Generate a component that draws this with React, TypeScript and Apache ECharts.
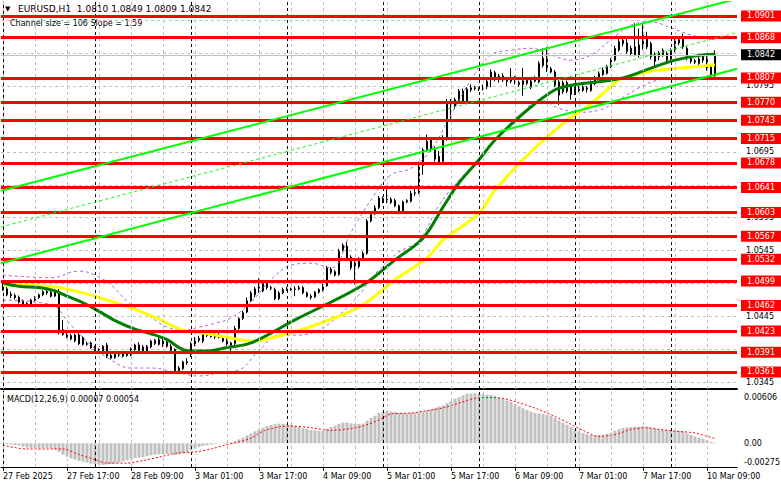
import { useEffect, useRef } from "react";
import * as echarts from "echarts";

const SYMBOL = "EURUSD,H1";
const CHANNEL_TEXT = "Channel size = 106 Slope = 1.59";
const MACD_NAME = "MACD(12,26,9)";
const FONT = "DejaVu Sans";

// Hourly candles [open, high, low, close], one list per trading day
const feb27 = [
  [1.0494, 1.0498, 1.0484, 1.0487], [1.0487, 1.049, 1.0476, 1.0478], [1.0479, 1.0483, 1.0473, 1.0477],
  [1.0477, 1.048, 1.0471, 1.0474], [1.0474, 1.0477, 1.0465, 1.0467], [1.0469, 1.0471, 1.046, 1.0462],
  [1.0463, 1.0467, 1.0461, 1.0465], [1.0464, 1.0472, 1.0462, 1.047], [1.047, 1.0476, 1.0468, 1.0474],
  [1.0474, 1.048, 1.0472, 1.0478], [1.0478, 1.0485, 1.0476, 1.0483], [1.0483, 1.0486, 1.0478, 1.0481],
  [1.0482, 1.0485, 1.0474, 1.0476], [1.0476, 1.0486, 1.0475, 1.0483], [1.0483, 1.049, 1.0418, 1.0421],
  [1.0425, 1.044, 1.0416, 1.0418], [1.042, 1.0423, 1.0412, 1.0414], [1.0416, 1.0419, 1.0409, 1.0411],
  [1.0408, 1.0419, 1.0406, 1.0417], [1.0417, 1.042, 1.0402, 1.0404], [1.0413, 1.0415, 1.0401, 1.0403],
  [1.0404, 1.0407, 1.0401, 1.0403], [1.0405, 1.0407, 1.0396, 1.0398],
];
const feb28 = [
  [1.0399, 1.0401, 1.0393, 1.0395], [1.0395, 1.0397, 1.0391, 1.0393], [1.0393, 1.0402, 1.0391, 1.04],
  [1.0402, 1.0405, 1.0382, 1.0385], [1.0386, 1.039, 1.038, 1.0382], [1.0383, 1.039, 1.0381, 1.0388],
  [1.0387, 1.039, 1.0384, 1.0387], [1.0388, 1.0391, 1.0383, 1.0385], [1.0386, 1.0392, 1.0384, 1.0389],
  [1.0387, 1.0398, 1.0385, 1.0396], [1.0395, 1.0404, 1.0393, 1.0402], [1.0402, 1.0406, 1.0392, 1.0394],
  [1.0399, 1.0402, 1.0391, 1.0393], [1.0392, 1.0402, 1.039, 1.04], [1.0399, 1.041, 1.0397, 1.0408],
  [1.0404, 1.0411, 1.0402, 1.0409], [1.041, 1.0414, 1.0401, 1.0403], [1.0408, 1.0411, 1.0399, 1.0401],
  [1.0407, 1.041, 1.0398, 1.04], [1.04, 1.0403, 1.0392, 1.0394], [1.0395, 1.0397, 1.0359, 1.0362],
  [1.0362, 1.037, 1.036, 1.0367], [1.0366, 1.0378, 1.0364, 1.0376], [1.0375, 1.0382, 1.0372, 1.0377],
];
const mar03 = [
  [1.0388, 1.0407, 1.0384, 1.0404], [1.0403, 1.0414, 1.04, 1.0412], [1.0412, 1.0416, 1.0406, 1.0409],
  [1.0408, 1.0424, 1.0405, 1.0421], [1.042, 1.0424, 1.0414, 1.0416], [1.0417, 1.0421, 1.0413, 1.0415],
  [1.0416, 1.042, 1.0411, 1.0414], [1.0414, 1.042, 1.0412, 1.0418], [1.0413, 1.0416, 1.0406, 1.0408],
  [1.0409, 1.0412, 1.0401, 1.0403], [1.0405, 1.0407, 1.0388, 1.0401], [1.0404, 1.0431, 1.0402, 1.0427],
  [1.0427, 1.0444, 1.0425, 1.0442], [1.0442, 1.0454, 1.044, 1.0451], [1.0452, 1.0474, 1.045, 1.0469],
  [1.0469, 1.0484, 1.0467, 1.0481], [1.0478, 1.049, 1.0474, 1.0487], [1.0488, 1.0503, 1.0481, 1.0491],
  [1.0484, 1.05, 1.0482, 1.0495], [1.0495, 1.0499, 1.0486, 1.0489], [1.0489, 1.0492, 1.0485, 1.0488],
  [1.0486, 1.0489, 1.047, 1.0472], [1.0472, 1.0484, 1.047, 1.0481], [1.0481, 1.0489, 1.0479, 1.0486],
];
const mar04 = [
  [1.0486, 1.049, 1.0484, 1.0487], [1.0487, 1.0489, 1.0484, 1.0486], [1.0486, 1.0491, 1.0476, 1.0487],
  [1.0487, 1.0492, 1.0485, 1.0489], [1.0489, 1.0491, 1.0479, 1.0481], [1.0481, 1.0483, 1.0474, 1.0476],
  [1.0476, 1.0479, 1.0471, 1.0474], [1.0475, 1.0484, 1.0473, 1.0482], [1.0482, 1.0488, 1.048, 1.0486],
  [1.0485, 1.0495, 1.0483, 1.0492], [1.0492, 1.0522, 1.049, 1.0519], [1.0517, 1.052, 1.0509, 1.0512],
  [1.0513, 1.0516, 1.0506, 1.0508], [1.0509, 1.0548, 1.0507, 1.0544], [1.0546, 1.0556, 1.0544, 1.0553],
  [1.0552, 1.0558, 1.0531, 1.0534], [1.0535, 1.0538, 1.0516, 1.0519], [1.0526, 1.0529, 1.0494, 1.0519],
  [1.0521, 1.0535, 1.0518, 1.0532], [1.0532, 1.0544, 1.053, 1.0541], [1.0541, 1.0593, 1.0539, 1.059],
  [1.059, 1.0603, 1.0588, 1.06], [1.0601, 1.0614, 1.0599, 1.061], [1.061, 1.0628, 1.0608, 1.0625],
];
const mar05 = [
  [1.0624, 1.0627, 1.0617, 1.062], [1.062, 1.0638, 1.0617, 1.0623], [1.0618, 1.0626, 1.0616, 1.0623],
  [1.0621, 1.0624, 1.0611, 1.0613], [1.0613, 1.0615, 1.06, 1.0603], [1.0603, 1.0621, 1.0601, 1.0619],
  [1.0619, 1.0623, 1.0617, 1.0621], [1.062, 1.0636, 1.0618, 1.0632], [1.0632, 1.0641, 1.0628, 1.0633],
  [1.0633, 1.068, 1.0631, 1.0676], [1.0674, 1.0701, 1.066, 1.0698], [1.0698, 1.0721, 1.0695, 1.0711],
  [1.0713, 1.0716, 1.0695, 1.0698], [1.0698, 1.0703, 1.068, 1.0684], [1.0688, 1.0696, 1.0676, 1.0678],
  [1.068, 1.072, 1.0676, 1.0716], [1.0714, 1.0775, 1.0712, 1.0769], [1.0766, 1.0775, 1.0744, 1.0771],
  [1.0764, 1.0777, 1.076, 1.0774], [1.0771, 1.079, 1.0768, 1.0787], [1.0787, 1.0791, 1.077, 1.0772],
  [1.0772, 1.0793, 1.077, 1.079], [1.0789, 1.0797, 1.0786, 1.0792], [1.0792, 1.0795, 1.0788, 1.0791],
];
const mar06 = [
  [1.0791, 1.0793, 1.0787, 1.079], [1.079, 1.0797, 1.0788, 1.0794], [1.0794, 1.0806, 1.079, 1.0802],
  [1.0804, 1.082, 1.0793, 1.0816], [1.0815, 1.0818, 1.0802, 1.0806], [1.0806, 1.0813, 1.08, 1.081],
  [1.081, 1.0814, 1.0801, 1.0804], [1.0804, 1.0808, 1.0795, 1.0802], [1.0802, 1.0822, 1.0799, 1.0808],
  [1.0808, 1.081, 1.0797, 1.08], [1.08, 1.0803, 1.0794, 1.0797], [1.0797, 1.0822, 1.078, 1.0803],
  [1.0803, 1.0806, 1.0796, 1.0799], [1.0793, 1.0806, 1.079, 1.0802], [1.0802, 1.081, 1.08, 1.0806],
  [1.0801, 1.0832, 1.0799, 1.0829], [1.0826, 1.0852, 1.0823, 1.0837], [1.0837, 1.0854, 1.0816, 1.0819],
  [1.0821, 1.0824, 1.0814, 1.0816], [1.0816, 1.0819, 1.0793, 1.0796], [1.0801, 1.0804, 1.0766, 1.0781],
  [1.0786, 1.0803, 1.0783, 1.08], [1.08, 1.0803, 1.0784, 1.0787], [1.0794, 1.0797, 1.0774, 1.0782],
];
const mar07 = [
  [1.0784, 1.0794, 1.0781, 1.0791], [1.0791, 1.0795, 1.0785, 1.0788], [1.0788, 1.0796, 1.0786, 1.0793],
  [1.0792, 1.0795, 1.0785, 1.079], [1.0788, 1.0803, 1.0786, 1.0799], [1.0798, 1.081, 1.0796, 1.0806],
  [1.0806, 1.0817, 1.0804, 1.0814], [1.0812, 1.0823, 1.081, 1.0819], [1.0814, 1.0827, 1.0812, 1.0824],
  [1.0824, 1.0837, 1.0822, 1.0834], [1.0834, 1.0856, 1.0832, 1.0852], [1.0849, 1.0866, 1.0847, 1.0862],
  [1.0864, 1.0867, 1.0855, 1.0859], [1.086, 1.0866, 1.0844, 1.0847], [1.0852, 1.0856, 1.084, 1.0844],
  [1.0842, 1.089, 1.084, 1.0854], [1.0857, 1.0882, 1.0838, 1.0842], [1.0854, 1.0888, 1.085, 1.0872],
  [1.0869, 1.0877, 1.0851, 1.0854], [1.0859, 1.0862, 1.0835, 1.0839], [1.0842, 1.0846, 1.0824, 1.0832],
  [1.0839, 1.0848, 1.0834, 1.0845], [1.0842, 1.0852, 1.0839, 1.0849], [1.0844, 1.0847, 1.083, 1.0834],
];
const mar10 = [
  [1.0836, 1.0852, 1.0833, 1.0849], [1.0849, 1.0868, 1.0846, 1.0864], [1.086, 1.0869, 1.0857, 1.0865],
  [1.0866, 1.0874, 1.0851, 1.0854], [1.0852, 1.0855, 1.0834, 1.0837], [1.0837, 1.084, 1.0829, 1.0832],
  [1.0833, 1.0836, 1.0828, 1.0831], [1.0829, 1.0839, 1.0826, 1.0836], [1.084, 1.0843, 1.083, 1.0834],
  [1.0839, 1.0842, 1.0818, 1.0821], [1.0824, 1.0827, 1.0806, 1.081], [1.081, 1.0849, 1.0809, 1.0842],
];
const days = [feb27, feb28, mar03, mar04, mar05, mar06, mar07, mar10];

// time axis
const tickLabels = [
  "27 Feb 2025", "27 Feb 17:00", "28 Feb 09:00", "3 Mar 01:00", "3 Mar 17:00", "4 Mar 09:00",
  "5 Mar 01:00", "5 Mar 17:00", "6 Mar 09:00", "7 Mar 01:00", "7 Mar 17:00", "10 Mar 09:00",
];
const TICK_EVERY = 16;
const GRID_EVERY = 8;
const SLOTS = 184;

// horizontal support / resistance levels
const levels = [
  1.0901, 1.0868, 1.0807, 1.077, 1.0743, 1.0715, 1.0678, 1.0641,
  1.0603, 1.0567, 1.0532, 1.0499, 1.0462, 1.0423, 1.0391, 1.0361,
];
const priceTicks = [
  1.0345, 1.0395, 1.0445, 1.0495, 1.0545, 1.0595, 1.0645, 1.0695, 1.0745, 1.0795, 1.0845, 1.0895,
];
const bidPrice = 1.0842;

// moving averages [bar, price]
const maGreen = [
  [0, 1.0496], [4, 1.0491], [9, 1.0489], [13, 1.0484], [16, 1.0476], [20, 1.0466], [24, 1.0453],
  [28, 1.0439], [33, 1.0426], [37, 1.0419], [41, 1.041], [45, 1.0395], [48, 1.0393], [51, 1.0393],
  [56, 1.0398], [62, 1.0405], [73, 1.044], [90, 1.0493], [98, 1.0531], [105, 1.0564], [110, 1.0611],
  [114, 1.0648], [119, 1.0683], [123, 1.0713], [131, 1.0758], [138, 1.0789], [142, 1.0796],
  [155, 1.0807], [162, 1.0822], [168, 1.0834], [175, 1.0842], [178, 1.0843],
];
const maYellow = [
  [0, 1.0493], [13, 1.049], [20, 1.0481], [24, 1.0474], [33, 1.0456], [39, 1.0441], [45, 1.0424],
  [49, 1.0421], [56, 1.0414], [62, 1.0408], [70, 1.0417], [82, 1.0441], [90, 1.0463], [98, 1.0501],
  [106, 1.0534], [110, 1.0561], [119, 1.0602], [123, 1.0637], [132, 1.0695], [141, 1.0743],
  [146, 1.0763], [151, 1.0789], [154, 1.0804], [161, 1.0816], [169, 1.0822], [175, 1.0825], [178, 1.0827],
];
// purple bands [bar, price]
const bandUpper = [
  [0, 1.0508], [12, 1.0504], [19, 1.0514], [23, 1.0508], [27, 1.0493], [32, 1.0463], [37, 1.0444],
  [41, 1.0429], [46, 1.0425], [49, 1.0429], [53, 1.0435], [57, 1.0443], [62, 1.0467], [67, 1.0501],
  [72, 1.0523], [77, 1.0526], [82, 1.0519], [87, 1.0573], [92, 1.0622], [97, 1.066], [102, 1.067],
  [107, 1.0698], [112, 1.0751], [117, 1.0804], [122, 1.0842], [127, 1.0849], [132, 1.0852],
  [137, 1.0842], [142, 1.0834], [147, 1.0842], [152, 1.0865], [157, 1.0887], [162, 1.0892],
  [167, 1.0883], [172, 1.0872], [178, 1.0865],
];
const bandLower = [
  [0, 1.047], [12, 1.0463], [17, 1.0432], [22, 1.0402], [27, 1.0379], [32, 1.0367], [37, 1.0367],
  [43, 1.0361], [49, 1.0355], [55, 1.0361], [59, 1.0364], [64, 1.0394], [69, 1.0417], [74, 1.0417],
  [79, 1.0425], [84, 1.0447], [89, 1.0478], [94, 1.0516], [99, 1.0543], [104, 1.0561], [109, 1.0614],
  [114, 1.0652], [119, 1.0683], [124, 1.072], [129, 1.0746], [134, 1.0774], [139, 1.0761],
  [144, 1.0755], [149, 1.0758], [154, 1.0774], [159, 1.0792], [164, 1.0804], [172, 1.0807], [178, 1.081],
];
// regression channel [bar, price]
const channelUpper = [[-0.5, 1.0636], [183.5, 1.0927]];
const channelMiddle = [[-0.5, 1.0581], [183.5, 1.0876]];
const channelLower = [[-0.5, 1.0526], [183.5, 1.0821]];

// MACD histogram, one value per bar
const macdHist = [
  -0.00008, -0.0001, -0.00015, -0.0002, -0.00026, -0.0004, -0.0005, -0.00055, -0.00058, -0.0006,
  -0.00058, -0.00055, -0.00058, -0.0007, -0.001, -0.0013, -0.00155, -0.00175, -0.0019, -0.00205,
  -0.00215, -0.00225, -0.00235, -0.00242, -0.00248, -0.0025, -0.00245, -0.0024, -0.00232, -0.00222,
  -0.0021, -0.00198, -0.00185, -0.00172, -0.00165, -0.0016, -0.0015, -0.0014, -0.00132, -0.00128,
  -0.00125, -0.00122, -0.0012, -0.00135, -0.0013, -0.00118, -0.00105, -0.0008, -0.0006, -0.00045,
  -0.00032, -0.00022, -0.00015, -0.00008, 0.00002, 0.00006, 0.00008, 0.00012, 0.00025, 0.00045,
  0.00065, 0.0009, 0.00115, 0.00138, 0.0016, 0.0018, 0.00198, 0.00212, 0.00222, 0.00228,
  0.00226, 0.0022, 0.00212, 0.002, 0.00188, 0.00175, 0.00165, 0.00155, 0.00148, 0.00145,
  0.00148, 0.0017, 0.0019, 0.00205, 0.00225, 0.0024, 0.0024, 0.00232, 0.00225, 0.00222,
  0.00228, 0.00262, 0.00295, 0.0032, 0.0035, 0.00362, 0.0037, 0.00368, 0.00362, 0.00352,
  0.0035, 0.00348, 0.00352, 0.00355, 0.0036, 0.00365, 0.0038, 0.00395, 0.0041, 0.00425,
  0.0044, 0.00465, 0.0049, 0.00515, 0.00535, 0.00555, 0.00575, 0.00578, 0.0058, 0.00575,
  0.0057, 0.00565, 0.0056, 0.00548, 0.0053, 0.00515, 0.00495, 0.00478, 0.00455, 0.0043,
  0.00405, 0.00385, 0.00365, 0.0035, 0.00345, 0.0034, 0.0033, 0.00318, 0.00295, 0.00265,
  0.0024, 0.00215, 0.0019, 0.00165, 0.0014, 0.0012, 0.00105, 0.00095, 0.00092, 0.00095,
  0.001, 0.0011, 0.00125, 0.00145, 0.00165, 0.00178, 0.00185, 0.00188, 0.00192, 0.0019,
  0.00195, 0.00192, 0.0018, 0.0017, 0.0016, 0.00155, 0.00148, 0.00145, 0.0015, 0.00148,
  0.00135, 0.00115, 0.00095, 0.00078, 0.00065, 0.00052, 0.00035, 0.00015, 0.00007,
];
// MACD signal line [bar, value]
const macdSignal = [
  [0, -0.00023], [6, -0.00066], [15, -0.00066], [19, -0.0013], [23, -0.0019], [26, -0.0023],
  [31, -0.0023], [35, -0.002], [39, -0.0016], [44, -0.0011], [48, -0.001], [52, -0.00066],
  [56, -0.00015], [58, 0.00004], [62, 0.0006], [65, 0.0014], [69, 0.0019], [72, 0.002], [77, 0.0018],
  [82, 0.0015], [87, 0.0017], [90, 0.002], [94, 0.0027], [97, 0.0034], [102, 0.0035], [105, 0.0037],
  [110, 0.0041], [115, 0.0048], [118, 0.0052], [122, 0.0053], [125, 0.0052], [129, 0.0047],
  [134, 0.0039], [138, 0.0031], [142, 0.0022], [145, 0.0015], [149, 0.0008], [153, 0.001],
  [157, 0.0016], [161, 0.0018], [164, 0.0016], [168, 0.0014], [173, 0.0012], [176, 0.0008], [178, 0.00054],
];
const macdTicks = [-0.00275, 0, 0.00606];

const fmt4 = (v: number) => v.toFixed(4);
const fmt5 = (v: number) => v.toFixed(5);

function buildOption(): any {
  const candles = days.flat();
  const n = candles.length;
  const last = candles[n - 1];
  const daySeps: number[] = [];
  let acc = 0;
  days.forEach((d, k) => {
    if (k > 0) daySeps.push(acc);
    acc += d.length;
  });
  const cats = Array.from({ length: SLOTS }, (_, i) => String(i));
  const vGrid: any[] = [];
  for (let i = 0; i < SLOTS; i += GRID_EVERY) {
    vGrid.push({ xAxis: i, lineStyle: { color: "#c0c0c0", type: [3, 3], width: 1 } });
  }
  daySeps.forEach((i) => vGrid.push({ xAxis: i, lineStyle: { color: "#000", type: [3, 3], width: 1 } }));

  // axis labels that are not covered by a level label
  const covering = [...levels, bidPrice];
  const visibleTicks = priceTicks.filter((t) => covering.every((l) => Math.abs(l - t) > 0.00065));

  const textBase = { fontFamily: FONT, fontSize: 8, color: "#000" };
  const lineBase = { type: "line", showSymbol: false, silent: true, animation: false };
  const gridMarkLine = {
    silent: true,
    symbol: ["none", "none"],
    label: { show: false },
    animation: false,
    data: vGrid,
  };
  const levelLabel = (bg: string) => ({
    show: true, position: "end", distance: 4, formatter: (p: any) => fmt4(Number(p.value)),
    backgroundColor: bg, color: "#ffffff", padding: [2, 6, 1, 6], fontFamily: FONT, fontSize: 8,
  });

  return {
    animation: false,
    backgroundColor: "#ffffff",
    grid: [
      { left: 1, top: 2, width: 736, height: 387, outerBoundsMode: "none" },
      { left: 1, top: 391, width: 736, height: 76, outerBoundsMode: "none" },
    ],
    xAxis: [
      {
        type: "category", gridIndex: 0, data: cats, boundaryGap: true,
        axisLine: { show: true, onZero: false, lineStyle: { color: "#000", width: 2 } },
        axisTick: { show: false }, axisLabel: { show: false }, splitLine: { show: false },
      },
      { type: "value", gridIndex: 0, min: -0.5, max: SLOTS - 0.5, show: false },
      {
        type: "category", gridIndex: 1, data: cats, boundaryGap: true,
        axisLine: { show: true, onZero: false, lineStyle: { color: "#000", width: 1 } },
        axisTick: {
          show: true, alignWithLabel: true, length: 4,
          interval: (i: number) => i % TICK_EVERY === 0, lineStyle: { color: "#000" },
        },
        axisLabel: {
          ...textBase, align: "left", margin: 5,
          interval: (i: number) => i % TICK_EVERY === 0,
          formatter: (_v: string, i: number) => tickLabels[i / TICK_EVERY] ?? "",
        },
        splitLine: { show: false },
      },
      { type: "value", gridIndex: 1, min: -0.5, max: SLOTS - 0.5, show: false },
    ],
    yAxis: [
      {
        type: "value", gridIndex: 0, position: "right", offset: 2, min: 1.03352, max: 1.09222,
        axisLine: { show: true, lineStyle: { color: "#000" } },
        axisTick: { show: false, customValues: priceTicks },
        axisLabel: { ...textBase, margin: 7, customValues: visibleTicks, formatter: (v: number) => fmt4(v) },
        splitLine: { show: true, lineStyle: { color: "#c0c0c0", type: [3, 3], width: 1 } },
      },
      {
        type: "value", gridIndex: 1, position: "right", offset: 2, min: macdTicks[0], max: macdTicks[2],
        axisLine: { show: true, lineStyle: { color: "#000" } },
        axisTick: { show: false },
        splitLine: { show: false },
        axisLabel: {
          ...textBase, margin: 5, customValues: macdTicks,
          formatter: (v: number) =>
            v > 0 ? `{t|${fmt5(v)}}` : v < 0 ? `{b|${fmt5(v)}}` : "{m|0.00}",
          rich: {
            t: { fontFamily: FONT, fontSize: 8, color: "#000", padding: [12, 0, 0, 0] },
            b: { fontFamily: FONT, fontSize: 8, color: "#000", padding: [0, 0, 9, 0] },
            m: { fontFamily: FONT, fontSize: 8, color: "#000" },
          },
        },
      },
    ],
    graphic: [
      { type: "text", left: 5, top: 5, style: { text: "▼", font: `7px ${FONT}`, fill: "#000" } },
      {
        type: "text", left: 18, top: 4,
        style: {
          text: `${SYMBOL}  ${fmt4(last[0])} ${fmt4(last[1])} ${fmt4(last[2])} ${fmt4(last[3])}`,
          font: `9px ${FONT}`, fill: "#000",
        },
      },
      { type: "text", left: 10, top: 19, style: { text: CHANNEL_TEXT, font: `8px ${FONT}`, fill: "#000" } },
      {
        type: "text", left: 7, top: 395,
        style: {
          text: `${MACD_NAME} ${fmt5(macdHist[macdHist.length - 1])} ${fmt5(macdSignal[macdSignal.length - 1][1])}`,
          font: `8px ${FONT}`, fill: "#000",
        },
      },
    ],
    series: [
      { ...lineBase, xAxisIndex: 1, yAxisIndex: 0, data: [], z: 1, markLine: gridMarkLine },
      {
        type: "candlestick", xAxisIndex: 0, yAxisIndex: 0, silent: true, z: 2, barWidth: 2,
        data: candles.map(([o, h, l, c]) => [o, c, l, h]),
        itemStyle: { color: "#ffffff", color0: "#000000", borderColor: "#000000", borderColor0: "#000000", borderWidth: 1 },
      },
      {
        ...lineBase, xAxisIndex: 1, yAxisIndex: 0, z: 3, data: bandUpper, smooth: 0.4,
        lineStyle: { color: "#b45ae6", width: 1, type: [3, 3] },
      },
      {
        ...lineBase, xAxisIndex: 1, yAxisIndex: 0, z: 3, data: bandLower, smooth: 0.4,
        lineStyle: { color: "#b45ae6", width: 1, type: [3, 3] },
      },
      {
        ...lineBase, xAxisIndex: 1, yAxisIndex: 0, z: 4, data: maYellow, smooth: 0.35,
        lineStyle: { color: "#ffff00", width: 3 },
      },
      {
        ...lineBase, xAxisIndex: 1, yAxisIndex: 0, z: 4, data: maGreen, smooth: 0.35,
        lineStyle: { color: "#008000", width: 3 },
      },
      {
        ...lineBase, xAxisIndex: 1, yAxisIndex: 0, z: 5, data: channelUpper,
        lineStyle: { color: "#00ff00", width: 2 },
      },
      {
        ...lineBase, xAxisIndex: 1, yAxisIndex: 0, z: 5, data: channelMiddle,
        lineStyle: { color: "#00ff00", width: 1, type: [3, 3] },
      },
      {
        ...lineBase, xAxisIndex: 1, yAxisIndex: 0, z: 5, data: channelLower,
        lineStyle: { color: "#00ff00", width: 2 },
      },
      {
        ...lineBase, xAxisIndex: 1, yAxisIndex: 0, z: 6, data: [],
        markLine: {
          silent: true, symbol: ["none", "none"], animation: false, precision: 4,
          lineStyle: { color: "#c0c0c0", width: 1, type: "solid" },
          label: levelLabel("#000000"),
          data: [{ yAxis: bidPrice }],
        },
      },
      {
        ...lineBase, xAxisIndex: 1, yAxisIndex: 0, z: 7, data: [],
        markLine: {
          silent: true, symbol: ["none", "none"], animation: false, precision: 4,
          lineStyle: { color: "#ff0000", width: 3, type: "solid" },
          label: levelLabel("#ff0000"),
          data: levels.map((v) => ({ yAxis: v })),
        },
      },
      { ...lineBase, xAxisIndex: 3, yAxisIndex: 1, data: [], z: 1, markLine: gridMarkLine },
      {
        type: "bar", xAxisIndex: 2, yAxisIndex: 1, data: macdHist, barWidth: 3, silent: true, z: 2,
        itemStyle: { color: "#c0c0c0" },
      },
      {
        ...lineBase, xAxisIndex: 3, yAxisIndex: 1, z: 3, data: macdSignal, smooth: 0.3,
        lineStyle: { color: "#ff0000", width: 1, type: [2, 2] },
      },
    ],
  };
}

export default function App() {
  const ref = useRef<HTMLDivElement>(null);
  useEffect(() => {
    document.body.style.margin = "0";
    if (!ref.current) return;
    const chart = echarts.init(ref.current, undefined, { renderer: "svg" });
    chart.setOption(buildOption());
    return () => chart.dispose();
  }, []);
  return <div ref={ref} style={{ width: 781, height: 489 }} />;
}
